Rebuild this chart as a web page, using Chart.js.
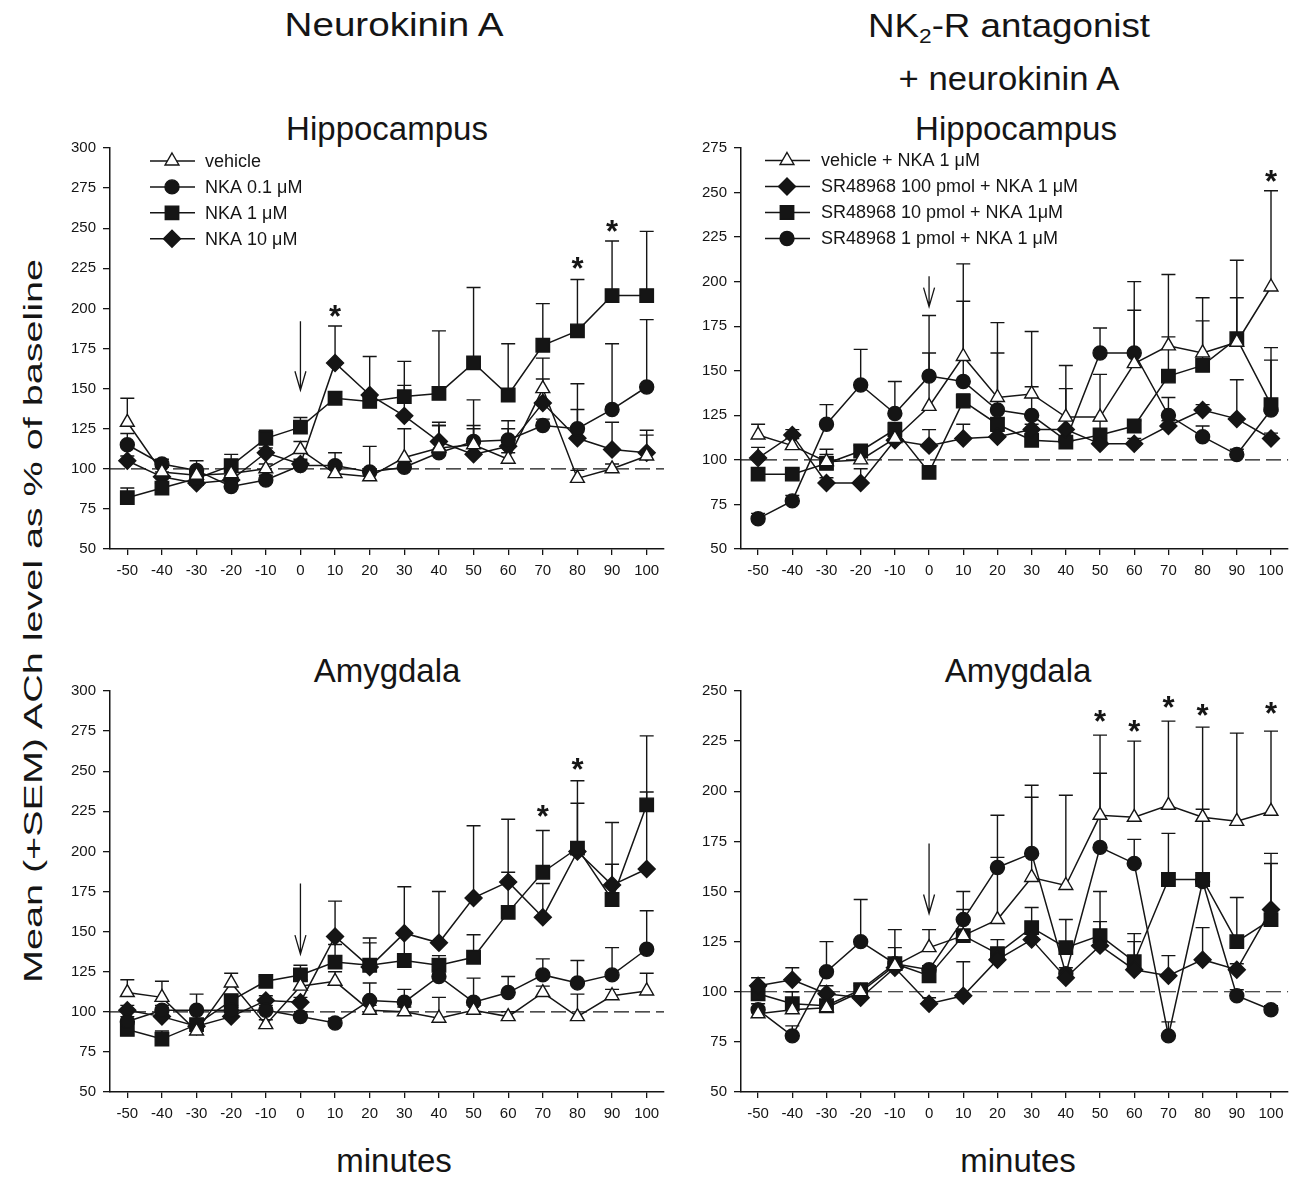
<!DOCTYPE html>
<html>
<head>
<meta charset="utf-8">
<script src="https://cdn.jsdelivr.net/npm/chart.js@4.4.1/dist/chart.umd.min.js"></script>
<style>
body { margin: 0; background: #fff; width: 1299px; height: 1178px; overflow: hidden; position: relative;
       font-family: "Liberation Sans", Arial, Helvetica, sans-serif; color: #151515; }
.t { position: absolute; white-space: nowrap; line-height: 1; transform: translateX(-50%); }
.t sub { font-size: 0.62em; vertical-align: -0.3em; line-height: 0; }
canvas { position: absolute; }
</style>
</head>
<body>
<div class="t" style="left:394px;top:8px;font-size:33px;transform:translateX(-50%) scaleX(1.17)">Neurokinin A</div>
<div class="t" style="left:1009px;top:8px;font-size:34px;transform:translateX(-50%) scaleX(1.08)">NK<sub>2</sub>-R antagonist</div>
<div class="t" style="left:1009px;top:61px;font-size:34px;transform:translateX(-50%) scaleX(1.02)">+ neurokinin A</div>
<div class="t" style="left:387px;top:112px;font-size:33px">Hippocampus</div>
<div class="t" style="left:1016px;top:112px;font-size:33px">Hippocampus</div>
<div class="t" style="left:387px;top:654px;font-size:33px">Amygdala</div>
<div class="t" style="left:1018px;top:654px;font-size:33px">Amygdala</div>
<div class="t" style="left:394px;top:1144px;font-size:33px">minutes</div>
<div class="t" style="left:1018px;top:1144px;font-size:33px">minutes</div>
<div class="t" style="left:33px;top:621px;font-size:26px;transform:translate(-50%,-50%) rotate(-90deg) scaleX(1.52)">Mean (+SEM) ACh level as % of baseline</div>

<canvas id="c1" width="640" height="460" style="left:40px;top:132px"></canvas>
<canvas id="c2" width="628" height="460" style="left:671px;top:132px"></canvas>
<canvas id="c3" width="640" height="460" style="left:40px;top:675px"></canvas>
<canvas id="c4" width="628" height="460" style="left:671px;top:675px"></canvas>

<script>
// sampling times (minutes) and axis ticks
const minutes = [-50, -40, -30, -20, -10, 0, 10, 20, 30, 40, 50, 60, 70, 80, 90, 100];
const xTicks = [-50, -40, -30, -20, -10, 0, 10, 20, 30, 40, 50, 60, 70, 80, 90, 100];
const yTicks300 = [50, 75, 100, 125, 150, 175, 200, 225, 250, 275, 300];
const yTicks275 = [50, 75, 100, 125, 150, 175, 200, 225, 250, 275];
const yTicks250 = [50, 75, 100, 125, 150, 175, 200, 225, 250];

// Hippocampus, neurokinin A (mean and mean+SEM)
const hipNkaVehicle    = [129, 98, 96, 97, 100, 112, 97, 95, 107, 113, 115, 106, 150, 94, 100, 108];
const hipNkaVehicleTop = [144, 101, 99, 100, 103, 117, 100, 98, 125, 127, 143, 110, 169, 99, 103, 121];
const hipNka01         = [115, 103, 99, 89, 93, 102, 102, 98, 101, 110, 117, 118, 127, 125, 137, 151];
const hipNka01Top      = [122, 106, 105, 92, 96, 105, 110, 114, 105, 129, 127, 125, 131, 153, 178, 193];
const hipNka1          = [82, 88, 94, 102, 119, 126, 144, 142, 145, 147, 166, 146, 177, 186, 208, 208];
const hipNka1Top       = [88, 91, 97, 109, 124, 132, 148, 146, 167, 186, 213, 178, 203, 218, 242, 248];
const hipNka10         = [105, 95, 91, 93, 110, 103, 166, 146, 133, 117, 109, 114, 141, 119, 112, 110];
const hipNka10Top      = [108, 98, 94, 96, 113, 106, 189, 170, 152, 127, 125, 130, 156, 137, 129, 124];

// Hippocampus, NK2-R antagonist + neurokinin A
const hipAntVehicle    = [114, 108, 99, 100, 112, 130, 158, 135, 137, 124, 124, 154, 164, 160, 166, 197];
const hipAntVehicleTop = [120, 112, 103, 104, 116, 160, 210, 177, 172, 153, 148, 184, 204, 191, 212, 251];
const hipAnt100        = [101, 114, 87, 87, 111, 108, 112, 113, 117, 117, 109, 109, 119, 128, 123, 112];
const hipAnt100Top     = [107, 117, 90, 95, 114, 117, 120, 116, 120, 140, 112, 112, 122, 131, 145, 115];
const hipAnt10         = [92, 92, 98, 105, 117, 93, 133, 120, 111, 110, 114, 119, 147, 153, 168, 131];
const hipAnt10Top      = [95, 95, 106, 108, 121, 96, 137, 123, 114, 113, 122, 122, 169, 178, 191, 163];
const hipAnt1          = [67, 77, 120, 142, 126, 147, 144, 128, 125, 111, 160, 160, 125, 113, 103, 128];
const hipAnt1Top       = [70, 80, 131, 162, 144, 181, 189, 160, 141, 113, 174, 200, 135, 119, 106, 156];

// Amygdala, neurokinin A
const amyNkaVehicle    = [112, 109, 88, 118, 92, 116, 119, 101, 100, 96, 101, 97, 112, 97, 110, 113];
const amyNkaVehicleTop = [120, 119, 91, 124, 95, 120, 125, 104, 103, 109, 104, 100, 116, 111, 114, 124];
const amyNka01         = [94, 101, 101, 101, 101, 97, 93, 107, 106, 122, 106, 112, 123, 118, 123, 139];
const amyNka01Top      = [97, 104, 111, 104, 104, 100, 96, 118, 114, 126, 121, 122, 133, 132, 140, 163];
const amyNka1          = [89, 83, 92, 107, 119, 123, 131, 129, 132, 129, 134, 162, 187, 202, 170, 229];
const amyNka1Top       = [92, 88, 94, 110, 122, 129, 142, 143, 148, 135, 148, 187, 213, 244, 192, 272];
const amyNka10         = [101, 97, 91, 97, 107, 106, 147, 128, 149, 143, 171, 181, 159, 200, 179, 189];
const amyNka10Top      = [104, 100, 94, 100, 110, 109, 169, 146, 178, 175, 216, 220, 180, 230, 218, 237];

// Amygdala, NK2-R antagonist + neurokinin A
const amyAntVehicle    = [89, 91, 92, 100, 113, 122, 128, 136, 157, 153, 188, 187, 193, 187, 185, 190];
const amyAntVehicleTop = [91, 93, 94, 103, 116, 131, 131, 167, 197, 198, 228, 225, 235, 232, 229, 230];
const amyAnt100        = [103, 106, 99, 97, 112, 94, 98, 116, 126, 107, 123, 111, 108, 116, 111, 141];
const amyAnt100Top     = [107, 112, 103, 100, 115, 97, 115, 119, 129, 110, 135, 125, 118, 132, 114, 169];
const amyAnt10         = [99, 94, 93, 101, 114, 108, 128, 119, 132, 122, 128, 115, 156, 156, 125, 136];
const amyAnt10Top      = [103, 100, 96, 104, 122, 111, 141, 126, 142, 136, 150, 129, 179, 191, 147, 164];
const amyAnt1          = [91, 78, 110, 125, 114, 111, 136, 162, 169, 109, 172, 164, 78, 155, 98, 91];
const amyAnt1Top       = [94, 83, 125, 146, 131, 113, 150, 188, 203, 112, 209, 176, 85, 158, 101, 93];

// significance stars (minute, level) and the injection arrow (from, to level at minute 0)
const hipNkaStarX = [10, 80, 90];              const hipNkaStarY = [199, 229, 252];
const hipAntStarX = [100];                     const hipAntStarY = [260];
const amyNkaStarX = [70, 80];                  const amyNkaStarY = [226, 255];
const amyAntStarX = [50, 60, 70, 80, 100];     const amyAntStarY = [238, 233, 245, 241, 242];
const hipNkaArrow = [192, 149];
const hipAntArrow = [203, 186];
const amyNkaArrow = [180, 136];
const amyAntArrow = [174, 139];

const INK = '#151515';
Chart.defaults.font.family = "'Liberation Sans', Arial, Helvetica, sans-serif";
Chart.defaults.color = INK;

const markers = {
  triangle: { pointStyle: 'triangle', pointRadius: 8, pointBackgroundColor: '#fff' },
  circle:   { pointStyle: 'circle', pointRadius: 7, pointBackgroundColor: INK },
  square:   { pointStyle: 'rect', pointRadius: 9.5, pointBackgroundColor: INK },
  diamond:  { pointStyle: 'rectRot', pointRadius: 8.5, pointBackgroundColor: INK }
};

function drawMarker(ctx, m, x, y) {
  const st = markers[m];
  ctx.fillStyle = st.pointBackgroundColor;
  ctx.strokeStyle = INK;
  ctx.lineWidth = 1.4;
  Chart.helpers.drawPoint(ctx, { pointStyle: st.pointStyle, radius: st.pointRadius, borderWidth: 1.4, rotation: 0 }, x, y);
}

function makeExtras(cfg) {
  return {
    id: 'extras',
    beforeDatasetsDraw(chart) {
      const { ctx, chartArea: a, scales: { x, y } } = chart;
      ctx.save();
      // baseline at 100 %
      ctx.setLineDash([15, 6]);
      ctx.lineWidth = 1.2;
      ctx.strokeStyle = INK;
      const yb = y.getPixelForValue(100);
      ctx.beginPath(); ctx.moveTo(a.left, yb); ctx.lineTo(a.right, yb); ctx.stroke();
      ctx.setLineDash([]);
      // upward SEM bars
      ctx.lineWidth = 1.4;
      chart.data.datasets.forEach(ds => {
        ds.top.forEach((t, i) => {
          const px = x.getPixelForValue(minutes[i]);
          const y0 = y.getPixelForValue(ds.data[i].y);
          const y1 = y.getPixelForValue(t);
          ctx.beginPath();
          ctx.moveTo(px, y0); ctx.lineTo(px, y1);
          ctx.moveTo(px - 7, y1); ctx.lineTo(px + 7, y1);
          ctx.stroke();
        });
      });
      ctx.restore();
    },
    afterDatasetsDraw(chart) {
      const { ctx, scales: { x, y } } = chart;
      ctx.save();
      ctx.fillStyle = INK;
      ctx.font = "bold 31px 'Liberation Sans', Arial, sans-serif";
      ctx.textAlign = 'center';
      ctx.textBaseline = 'alphabetic';
      cfg.starX.forEach((m, i) => {
        ctx.fillText('*', x.getPixelForValue(m), y.getPixelForValue(cfg.starY[i]) + 17);
      });
      // arrow
      const ax = x.getPixelForValue(0);
      const ya = y.getPixelForValue(cfg.arrow[0]);
      const yt = y.getPixelForValue(cfg.arrow[1]);
      ctx.strokeStyle = INK;
      ctx.lineWidth = 1.3;
      ctx.beginPath();
      ctx.moveTo(ax, ya); ctx.lineTo(ax, yt);
      ctx.moveTo(ax - 5.5, yt - 19); ctx.lineTo(ax, yt); ctx.lineTo(ax + 5.5, yt - 19);
      ctx.stroke();
      ctx.restore();
    },
    afterDraw(chart) {
      if (!cfg.legend) return;
      const { ctx, chartArea: a } = chart;
      const L = cfg.legend;
      ctx.save();
      ctx.font = "18px 'Liberation Sans', Arial, sans-serif";
      ctx.textBaseline = 'middle';
      ctx.textAlign = 'left';
      chart.data.datasets.forEach((ds, i) => {
        const yy = a.top + L.y0 + i * L.dy;
        ctx.strokeStyle = INK;
        ctx.lineWidth = 1.5;
        ctx.beginPath(); ctx.moveTo(a.left + L.x0, yy); ctx.lineTo(a.left + L.x1, yy); ctx.stroke();
        drawMarker(ctx, ds.marker, a.left + L.mx, yy);
        ctx.fillStyle = INK;
        ctx.fillText(ds.label, a.left + L.tx, yy + 1);
      });
      ctx.restore();
    }
  };
}

function panel(id, yTicks, series, cfg) {
  const datasets = series.map(s => Object.assign({
    label: s.label,
    marker: s.marker,
    data: s.mean.map((v, i) => ({ x: minutes[i], y: v })),
    top: s.top,
    borderColor: INK,
    borderWidth: 1.5,
    pointBorderColor: INK,
    pointBorderWidth: 1.4,
    fill: false,
    tension: 0
  }, markers[s.marker]));

  const axisGrid = { drawOnChartArea: false, color: INK, lineWidth: 1.3 };
  new Chart(document.getElementById(id), {
    type: 'line',
    data: { datasets },
    options: {
      responsive: false,
      animation: false,
      layout: { padding: { top: 15, right: cfg.padRight, left: 0, bottom: 0 } },
      plugins: { legend: { display: false }, tooltip: { enabled: false } },
      scales: {
        x: {
          type: 'linear', min: -55, max: 105,
          afterBuildTicks: s => { s.ticks = xTicks.map(v => ({ value: v })); },
          afterFit: s => { s.height = 43; },
          grid: Object.assign({ tickLength: 6 }, axisGrid),
          border: { color: INK, width: 1.5 },
          ticks: { font: { size: 15 }, color: INK, padding: 7, maxRotation: 0, autoSkip: false,
                   callback: v => String(v) }
        },
        y: {
          type: 'linear', min: 50, max: yTicks[yTicks.length - 1],
          afterBuildTicks: s => { s.ticks = yTicks.map(v => ({ value: v })); },
          afterFit: s => { s.width = 70; },
          grid: Object.assign({ tickLength: 7 }, axisGrid),
          border: { color: INK, width: 1.5 },
          ticks: { font: { size: 15 }, color: INK, padding: 7, autoSkip: false,
                   callback: v => String(v) }
        }
      }
    },
    plugins: [makeExtras(cfg)]
  });
}

panel('c1', yTicks300, [
  { label: 'vehicle', marker: 'triangle', mean: hipNkaVehicle, top: hipNkaVehicleTop },
  { label: 'NKA 0.1 \u03bcM', marker: 'circle', mean: hipNka01, top: hipNka01Top },
  { label: 'NKA 1 \u03bcM', marker: 'square', mean: hipNka1, top: hipNka1Top },
  { label: 'NKA 10 \u03bcM', marker: 'diamond', mean: hipNka10, top: hipNka10Top }
], { padRight: 16, starX: hipNkaStarX, starY: hipNkaStarY, arrow: hipNkaArrow,
     legend: { x0: 40, x1: 85, mx: 62, tx: 95, y0: 13, dy: 25.9 } });

panel('c2', yTicks275, [
  { label: 'vehicle + NKA 1 \u03bcM', marker: 'triangle', mean: hipAntVehicle, top: hipAntVehicleTop },
  { label: 'SR48968 100 pmol + NKA 1 \u03bcM', marker: 'diamond', mean: hipAnt100, top: hipAnt100Top },
  { label: 'SR48968 10 pmol + NKA 1\u03bcM', marker: 'square', mean: hipAnt10, top: hipAnt10Top },
  { label: 'SR48968 1 pmol + NKA 1 \u03bcM', marker: 'circle', mean: hipAnt1, top: hipAnt1Top }
], { padRight: 6, starX: hipAntStarX, starY: hipAntStarY, arrow: hipAntArrow,
     legend: { x0: 24, x1: 69, mx: 46, tx: 80, y0: 12.5, dy: 26 } });

panel('c3', yTicks300, [
  { label: 'vehicle', marker: 'triangle', mean: amyNkaVehicle, top: amyNkaVehicleTop },
  { label: 'NKA 0.1 \u03bcM', marker: 'circle', mean: amyNka01, top: amyNka01Top },
  { label: 'NKA 1 \u03bcM', marker: 'square', mean: amyNka1, top: amyNka1Top },
  { label: 'NKA 10 \u03bcM', marker: 'diamond', mean: amyNka10, top: amyNka10Top }
], { padRight: 16, starX: amyNkaStarX, starY: amyNkaStarY, arrow: amyNkaArrow, legend: null });

panel('c4', yTicks250, [
  { label: 'vehicle + NKA 1 \u03bcM', marker: 'triangle', mean: amyAntVehicle, top: amyAntVehicleTop },
  { label: 'SR48968 100 pmol + NKA 1 \u03bcM', marker: 'diamond', mean: amyAnt100, top: amyAnt100Top },
  { label: 'SR48968 10 pmol + NKA 1\u03bcM', marker: 'square', mean: amyAnt10, top: amyAnt10Top },
  { label: 'SR48968 1 pmol + NKA 1 \u03bcM', marker: 'circle', mean: amyAnt1, top: amyAnt1Top }
], { padRight: 6, starX: amyAntStarX, starY: amyAntStarY, arrow: amyAntArrow, legend: null });
</script>
</body>
</html>
